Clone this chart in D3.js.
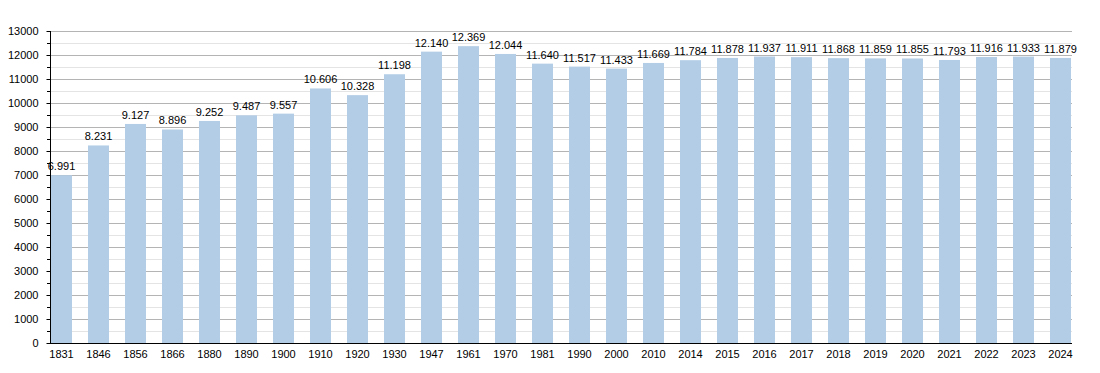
<!DOCTYPE html>
<html>
<head>
<meta charset="utf-8">
<script src="https://cdn.jsdelivr.net/npm/d3@7"></script>
<style>
	body { margin: 0; background: #fff; }
	text { font-family: "Liberation Sans", Arial, sans-serif; font-size: 11px; fill: #000; }
</style>
</head>
<body>
<div id="chart"></div>
<script>
// DATA ------------------------------------------------------------
var years = ["1831", "1846", "1856", "1866", "1880", "1890", "1900", "1910", "1920", "1930",
	"1947", "1961", "1970", "1981", "1990", "2000", "2010", "2014", "2015", "2016",
	"2017", "2018", "2019", "2020", "2021", "2022", "2023", "2024"];
var population = [6991, 8231, 9127, 8896, 9252, 9487, 9557, 10606, 10328, 11198,
	12140, 12369, 12044, 11640, 11517, 11433, 11669, 11784, 11878, 11937,
	11911, 11868, 11859, 11855, 11793, 11916, 11933, 11879];
var yTicks = d3.range(0, 13001, 1000);
var yMinor = d3.range(500, 13000, 1000);

// SIZE ------------------------------------------------------------
var width = 1100,
    height = 373;
// plot area (don't use "top" as a name, it's window.top)
var plot = {left: 50, right: 1072, top: 31, bottom: 343};

var svg = d3.select("#chart")
	.append("svg")
	.attr("width", width)
	.attr("height", height);

var y = d3.scaleLinear()
	.domain([0, 13000])
	.range([plot.bottom, plot.top]);

var x = d3.scaleBand()
	.domain(years)
	.range([51, 1071])
	.paddingInner(16 / 37)
	.paddingOuter(0)
	.align(0);

var py = function(d) { return Math.round(y(d)) + 0.5; };

// grid lines
svg.selectAll("line.minor")
	.data(yMinor)
	.enter()
	.append("line")
	.attr("class", "minor")
	.attr("x1", plot.left).attr("x2", plot.right)
	.attr("y1", py)
	.attr("y2", py)
	.style("stroke", "#e4e4e4");

svg.selectAll("line.major")
	.data(yTicks.slice(1))
	.enter()
	.append("line")
	.attr("class", "major")
	.attr("x1", plot.left).attr("x2", plot.right)
	.attr("y1", py)
	.attr("y2", py)
	.style("stroke", "#b4b4b4");

// bars
svg.selectAll("rect.bar")
	.data(population)
	.enter()
	.append("rect")
	.attr("class", "bar")
	.attr("x", function(d, i) { return x(years[i]); })
	.attr("width", x.bandwidth())
	.attr("y", function(d) { return y(d); })
	.attr("height", function(d) { return plot.bottom - y(d); })
	.style("fill", "#b3cde6");

// value labels, dot as thousands separator
var fmt = function(v) { return d3.format(",")(v).replace(/,/g, "."); };
svg.selectAll("text.val")
	.data(population)
	.enter()
	.append("text")
	.attr("class", "val")
	.attr("x", function(d, i) { return x(years[i]) + x.bandwidth() / 2; })
	.attr("y", function(d) { return y(d) - 5; })
	.attr("text-anchor", "middle")
	.text(fmt);

// y axis
var yAxis = d3.axisLeft(y)
	.tickValues(yTicks)
	.tickSize(4)
	.tickPadding(8)
	.tickFormat(d3.format("d"));
var gy = svg.append("g")
	.attr("transform", "translate(" + (plot.left + 0.5) + ",0)")
	.call(yAxis);
gy.select(".domain").remove();
gy.selectAll("text").style("font-size", "11px").style("font-family", "Liberation Sans, Arial, sans-serif");

svg.selectAll("line.minortick")
	.data(yMinor)
	.enter()
	.append("line")
	.attr("class", "minortick")
	.attr("x1", plot.left - 3).attr("x2", plot.left)
	.attr("y1", py)
	.attr("y2", py)
	.style("stroke", "#000");

svg.append("line")
	.attr("x1", plot.left + 0.5).attr("x2", plot.left + 0.5)
	.attr("y1", plot.top).attr("y2", plot.bottom)
	.style("stroke", "#000");

// x axis
var xAxis = d3.axisBottom(x).tickSize(0).tickPadding(7);
var gx = svg.append("g")
	.attr("transform", "translate(0," + (plot.bottom + 0.5) + ")")
	.call(xAxis);
gx.select(".domain").remove();
gx.selectAll("text").style("font-size", "11px").style("font-family", "Liberation Sans, Arial, sans-serif");

svg.append("line")
	.attr("x1", plot.left).attr("x2", plot.right)
	.attr("y1", plot.bottom + 0.5).attr("y2", plot.bottom + 0.5)
	.style("stroke", "#000");
</script>
</body>
</html>
